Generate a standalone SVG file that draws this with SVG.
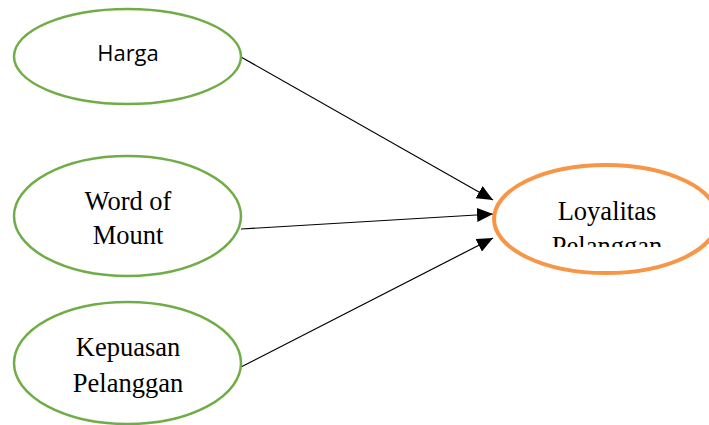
<svg xmlns="http://www.w3.org/2000/svg" width="709" height="425" viewBox="0 0 709 425">
<style>
.src{fill:#fff;stroke:#70AD47;stroke-width:2.5}
.dst{fill:#fff;stroke:#F79646;stroke-width:4}
.serif{font-family:"Liberation Serif","Times New Roman",serif;font-size:26.5px;fill:#000;text-anchor:middle}
.sans{font-family:"Open Sans","Liberation Sans",sans-serif;font-size:22px;fill:#000;text-anchor:middle}
.edge{stroke:#000;stroke-width:1.2;fill:none;marker-end:url(#arr)}
</style>
<defs>
<marker id="arr" markerUnits="userSpaceOnUse" markerWidth="16" markerHeight="14" refX="16" refY="7" orient="auto">
<path d="M0,0 L16,7 L0,14 Z" fill="#000"/>
</marker>
<clipPath id="clipL"><rect x="490" y="160" width="230" height="87"/></clipPath>
</defs>
<rect width="709" height="425" fill="#fff"/>
<g id="connectors">
<line class="edge" x1="241" y1="57" x2="493" y2="200"/>
<line class="edge" x1="241" y1="229" x2="493" y2="214"/>
<line class="edge" x1="241" y1="367" x2="493" y2="238"/>
</g>
<g id="harga">
<ellipse class="src" cx="127.5" cy="56.5" rx="113.5" ry="47.5"/>
<text class="sans" x="128" y="61">Harga</text>
</g>
<g id="word-of-mount">
<ellipse class="src" cx="127.5" cy="216" rx="113.5" ry="60"/>
<text class="serif" x="128" y="210">Word of</text>
<text class="serif" x="128" y="244">Mount</text>
</g>
<g id="kepuasan-pelanggan">
<ellipse class="src" cx="127.5" cy="363" rx="113.5" ry="61"/>
<text class="serif" x="128" y="356">Kepuasan</text>
<text class="serif" x="128" y="392">Pelanggan</text>
</g>
<g id="loyalitas-pelanggan">
<ellipse class="dst" cx="606" cy="219" rx="112" ry="54"/>
<g clip-path="url(#clipL)">
<text class="serif" x="607" y="220">Loyalitas</text>
<text class="serif" x="607" y="255">Pelanggan</text>
</g>
</g>
</svg>
